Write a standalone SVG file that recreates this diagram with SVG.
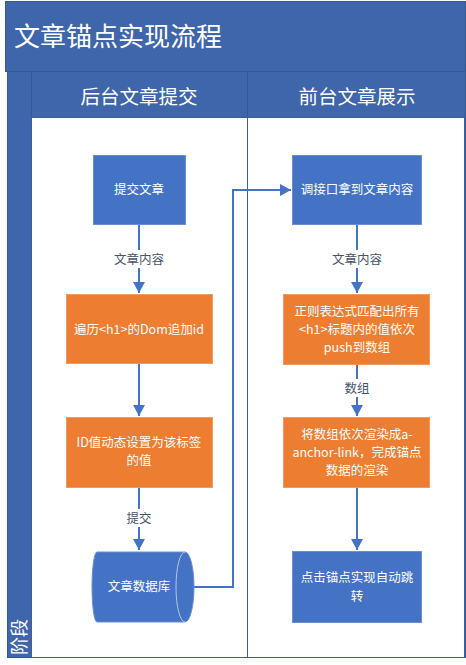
<svg xmlns="http://www.w3.org/2000/svg" width="466" height="665" viewBox="0 0 466 665">
<defs>
<style>
text{font-family:"Noto Sans CJK SC","Liberation Sans",sans-serif;}
.band{fill:#3F65AB;stroke:#355891;stroke-width:1;}
.lane{fill:#ffffff;stroke:#3F5F99;stroke-width:1;}
.blue{fill:#4472C4;stroke:#6A8FD0;stroke-width:1;}
.orange{fill:#ED7D31;stroke:#F29A5E;stroke-width:1;}
.nt{fill:#ffffff;font-size:12.5px;text-anchor:middle;}
.lt{fill:#44546A;font-size:12.5px;text-anchor:middle;}
.lbg{fill:#ffffff;}
.conn{fill:none;stroke:#4472C4;stroke-width:2;}
</style>
<marker id="arr" markerUnits="userSpaceOnUse" markerWidth="12" markerHeight="12" refX="11" refY="6" orient="auto">
<path d="M0,0 L11,6 L0,12 z" fill="#4472C4"/>
</marker>
</defs>
<rect x="0" y="0" width="466" height="665" fill="#ffffff"/>
<g id="pool">
<rect class="band" x="5.5" y="1.5" width="460" height="70"/>
<text x="14" y="46" fill="#ffffff" font-size="26px">文章锚点实现流程</text>
<rect class="band" x="7.5" y="71.5" width="458" height="586"/>
<text transform="translate(26,655) rotate(-90)" fill="#ffffff" font-size="18px">阶段</text>
</g>
<g id="lane1">
<rect class="band" x="31.5" y="71.5" width="216" height="46"/>
<text x="139" y="104" fill="#ffffff" font-size="19.5px" text-anchor="middle">后台文章提交</text>
<rect class="lane" x="31.5" y="117.5" width="216" height="540"/>
</g>
<g id="lane2">
<rect class="band" x="247.5" y="71.5" width="218" height="46"/>
<text x="357" y="104" fill="#ffffff" font-size="19.5px" text-anchor="middle">前台文章展示</text>
<rect class="lane" x="247.5" y="117.5" width="217" height="540"/>
</g>
<g id="connectors">
<path class="conn" d="M139,224 V293" marker-end="url(#arr)"/>
<rect class="lbg" x="110" y="250" width="58" height="18"/>
<text class="lt" x="139" y="264">文章内容</text>
<path class="conn" d="M139,363 V416" marker-end="url(#arr)"/>
<path class="conn" d="M139,487 V550" marker-end="url(#arr)"/>
<rect class="lbg" x="122" y="509" width="34" height="18"/>
<text class="lt" x="139" y="523">提交</text>
<path class="conn" d="M194,587 H233 V190 H291" marker-end="url(#arr)"/>
<path class="conn" d="M357,224 V293" marker-end="url(#arr)"/>
<rect class="lbg" x="328" y="250" width="58" height="18"/>
<text class="lt" x="357" y="264">文章内容</text>
<path class="conn" d="M357,364 V416" marker-end="url(#arr)"/>
<rect class="lbg" x="340" y="379" width="34" height="18"/>
<text class="lt" x="357" y="393">数组</text>
<path class="conn" d="M357,487 V550" marker-end="url(#arr)"/>
</g>
<g id="n1">
<rect class="blue" x="93.5" y="155.5" width="92" height="69"/>
<text class="nt" x="139" y="194">提交文章</text>
</g>
<g id="n2">
<rect class="orange" x="66.5" y="294.5" width="146" height="69"/>
<text class="nt" x="139" y="334">遍历&lt;h1&gt;的Dom追加id</text>
</g>
<g id="n3">
<rect class="orange" x="66.5" y="417.5" width="146" height="70"/>
<text class="nt" x="139" y="447">ID值动态设置为该标签</text>
<text class="nt" x="139" y="465">的值</text>
</g>
<g id="n4">
<path d="M97,552 L185,552 A9,35 0 0 1 185,622 L97,622 A5,35 0 0 1 97,552 Z" fill="#4472C4" stroke="#6A8FD0" stroke-width="1"/>
<path d="M185,552 A9,35 0 0 0 185,622" fill="none" stroke="#B4C7E7" stroke-width="1"/>
<text class="nt" x="139" y="591">文章数据库</text>
</g>
<g id="n5">
<rect class="blue" x="292.5" y="155.5" width="129" height="69"/>
<text class="nt" x="357" y="194">调接口拿到文章内容</text>
</g>
<g id="n6">
<rect class="orange" x="283.5" y="294.5" width="146" height="70"/>
<text class="nt" x="357" y="316">正则表达式匹配出所有</text>
<text class="nt" x="357" y="334">&lt;h1&gt;标题内的值依次</text>
<text class="nt" x="357" y="352">push到数组</text>
</g>
<g id="n7">
<rect class="orange" x="283.5" y="417.5" width="146" height="70"/>
<text class="nt" x="357" y="439">将数组依次渲染成a-</text>
<text class="nt" x="357" y="457">anchor-link，完成锚点</text>
<text class="nt" x="357" y="475">数据的渲染</text>
</g>
<g id="n8">
<rect class="blue" x="292.5" y="551.5" width="129" height="71"/>
<text class="nt" x="357" y="582">点击锚点实现自动跳</text>
<text class="nt" x="357" y="601">转</text>
</g>
</svg>
